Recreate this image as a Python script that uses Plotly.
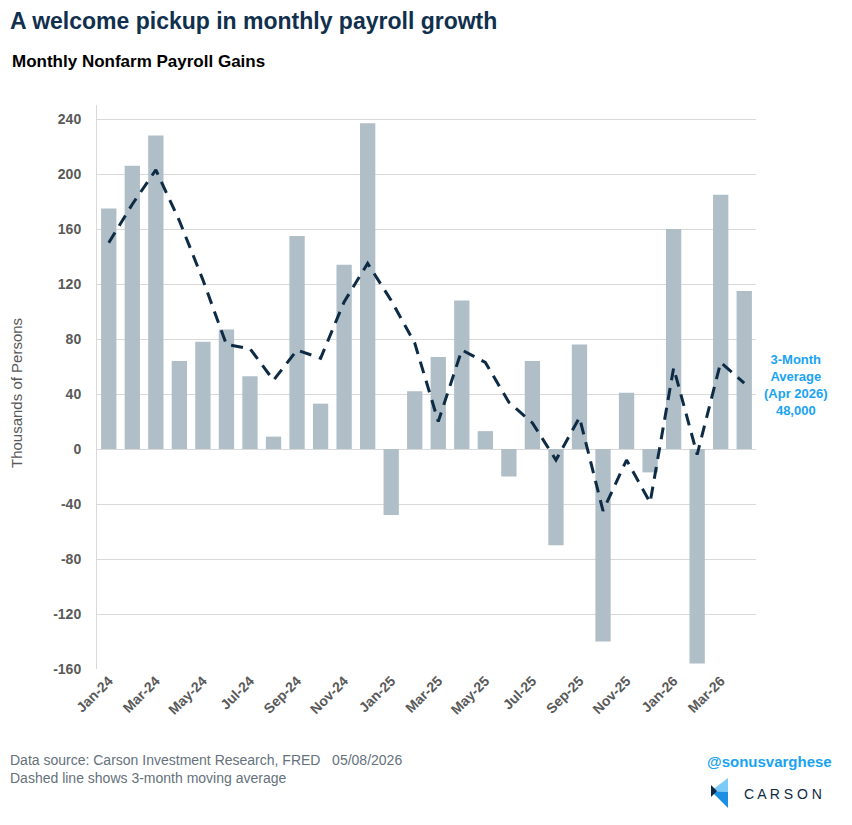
import plotly.graph_objects as go

# monthly nonfarm payroll gains, thousands of persons
months = ["Jan-24", "Feb-24", "Mar-24", "Apr-24", "May-24", "Jun-24", "Jul-24",
          "Aug-24", "Sep-24", "Oct-24", "Nov-24", "Dec-24", "Jan-25", "Feb-25",
          "Mar-25", "Apr-25", "May-25", "Jun-25", "Jul-25", "Aug-25", "Sep-25",
          "Oct-25", "Nov-25", "Dec-25", "Jan-26", "Feb-26", "Mar-26", "Apr-26"]
payrolls = [175, 206, 228, 64, 78, 87, 53, 9, 155, 33, 134, 237, -48, 42,
            67, 108, 13, -20, 64, -70, 76, -140, 41, -17, 160, -156, 185, 115]
avg_3m = [150, 178, 203, 166, 123, 76, 73, 50, 72, 66, 107, 135, 108, 77,
          20, 72, 63, 34, 19, -8, 23, -45, -8, -39, 59, -4, 63, 48]
ytick_vals = [-160, -120, -80, -40, 0, 40, 80, 120, 160, 200, 240]
ytick_text = [str(v) for v in ytick_vals]

FONT = "Liberation Sans, Arial, sans-serif"
GREY = "#595959"
NAVY = "#0d2b45"
BLUE = "#19a3f2"

# page has an 8px body margin, so the figure is drawn 8px smaller and
# every pixel position below is given in page pixels
OFF = 8
W, H = 852 - OFF, 825 - OFF
L, R, T, B = 97, 756, 105, 669
def px(x):
    return (x - L) / (R - L)
def py(y):
    return (B - y) / (B - T)

fig = go.Figure()
fig.add_trace(go.Bar(x=months, y=payrolls, marker_color="#b0bec7",
                     marker_line_width=0, name="Payrolls"))
fig.add_trace(go.Scatter(x=months, y=avg_3m, mode="lines", name="3-month avg",
                         line=dict(color=NAVY, width=3, dash="12px,8px")))

notes = [
    dict(x=px(8), y=py(21), text="A welcome pickup in monthly payroll growth",
         font=dict(size=23, color="#10304d", weight=700), xanchor="left"),
    dict(x=px(10), y=py(62), text="Monthly Nonfarm Payroll Gains",
         font=dict(size=17, color="#000000", weight=700), xanchor="left"),
    dict(x=px(16), y=py(393), text="Thousands of Persons", textangle=-90,
         font=dict(size=15, color=GREY), xanchor="center"),
    dict(x=px(796), y=py(385), text="3-Month<br>Average<br>(Apr 2026)<br>48,000",
         font=dict(size=13, color=BLUE, weight=700), xanchor="center"),
    dict(x=px(8), y=py(769), text="Data source: Carson Investment Research, FRED&nbsp;&nbsp; 05/08/2026<br>Dashed line shows 3-month moving average",
         font=dict(size=14, color="#65717b"), xanchor="left", align="left"),
    dict(x=px(834), y=py(761), text="@sonusvarghese",
         font=dict(size=15, color=BLUE, weight=700), xanchor="right"),
    dict(x=px(742), y=py(794), text="C A R S O N",
         font=dict(size=14, color=NAVY), xanchor="left"),
]
for n in notes:
    fig.add_annotation(xref="paper", yref="paper", showarrow=False,
                       yanchor="middle", font_family=FONT, **n)

# small Carson chevron logo
def poly(pts):
    return "M " + " L ".join(f"{px(a):.4f},{py(b):.4f}" for a, b in pts) + " Z"
logo = [
    ([(728, 778), (728, 792), (711, 791)], "#7ccaf8"),
    ([(711, 791), (728, 792), (728, 808)], "#1a8fe3"),
    ([(711, 785), (717, 791), (711, 797)], NAVY),
]
for pts, col in logo:
    fig.add_shape(type="path", path=poly(pts), xref="paper", yref="paper",
                  fillcolor=col, line_width=0)

fig.update_layout(
    width=W, height=H,
    margin=dict(l=L - OFF, r=852 - R, t=T - OFF, b=825 - B),
    paper_bgcolor="white", plot_bgcolor="white",
    showlegend=False, bargap=0.35,
    font=dict(family=FONT, color=GREY),
)
fig.update_xaxes(type="category", categoryorder="array", categoryarray=months,
                 tickvals=months[::2], ticktext=months[::2], tickangle=-45,
                 tickfont=dict(size=14, color=GREY, weight=700),
                 showgrid=False, showline=False, zeroline=False)
fig.update_yaxes(range=[-160, 250.2], tickvals=ytick_vals, ticktext=ytick_text,
                 tickfont=dict(size=14, color=GREY, weight=700),
                 gridcolor="#d9d9d9", gridwidth=1, zeroline=False,
                 showline=True, linecolor="#d9d9d9", linewidth=1,
                 ticks="outside", ticklen=12, tickcolor="white")

fig.write_html("out.html")
